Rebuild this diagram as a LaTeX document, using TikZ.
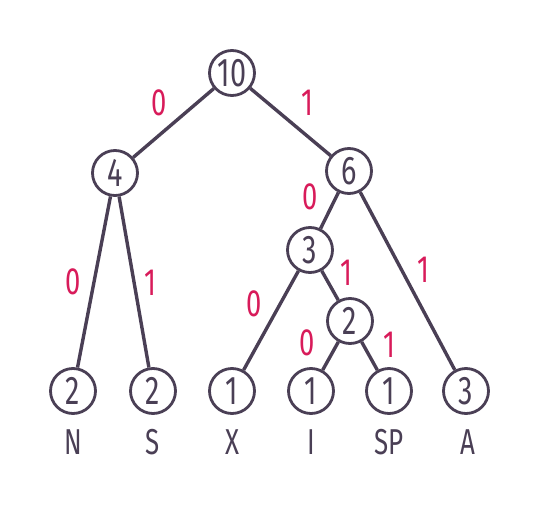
\documentclass[tikz,border=0pt]{standalone}
\usepackage{fontspec}
\newfontfamily\hand[FakeStretch=0.72]{Fira Sans}
\definecolor{ink}{HTML}{4A3F55}
\definecolor{bit}{HTML}{D81B5A}
\begin{document}
\begin{tikzpicture}[x=1pt,y=-1pt,
  nd/.style={circle,draw=ink,line width=2.8pt,minimum size=45pt,inner sep=0pt,text=ink,font=\hand\fontsize{40}{40}\selectfont},
  sym/.style={text=ink,font=\hand\fontsize{36}{36}\selectfont},
  bitlab/.style={text=bit,font=\hand\fontsize{38}{38}\selectfont},
  edge/.style={draw=ink,line width=3.4pt}]
\useasboundingbox (0,0) rectangle (544,509);
\node[nd] (r) at (232,73) {10};
\node[nd] (n4) at (115,173) {4};
\node[nd] (n6) at (349,171) {6};
\node[nd] (n3) at (310,250) {3};
\node[nd] (n2) at (350,321) {2};
\node[nd] (lN) at (73,391) {2};
\node[nd] (lS) at (153,391) {2};
\node[nd] (lX) at (232,391) {1};
\node[nd] (lI) at (311,391) {1};
\node[nd] (lSP) at (389,391) {1};
\node[nd] (lA) at (466,391) {3};
\node[sym] (tN) at (73,442) {N};
\node[sym] (tS) at (153,442) {S};
\node[sym] (tX) at (232,442) {X};
\node[sym] (tI) at (311,442) {I};
\node[sym] (tSP) at (389,442) {SP};
\node[sym] (tA) at (468,442) {A};
\draw[edge] (r) -- (n4);
\draw[edge] (r) -- (n6);
\draw[edge] (n4) -- (lN);
\draw[edge] (n4) -- (lS);
\draw[edge] (n6) -- (n3);
\draw[edge] (n6) -- (lA);
\draw[edge] (n3) -- (lX);
\draw[edge] (n3) -- (n2);
\draw[edge] (n2) -- (lI);
\draw[edge] (n2) -- (lSP);
\node[bitlab] (b1) at (159,103) {0};
\node[bitlab] (b2) at (307,103) {1};
\node[bitlab] (b3) at (73,282) {0};
\node[bitlab] (b4) at (150,283) {1};
\node[bitlab] (b5) at (310,197) {0};
\node[bitlab] (b6) at (423,270) {1};
\node[bitlab] (b7) at (254,304) {0};
\node[bitlab] (b8) at (346,273) {1};
\node[bitlab] (b9) at (307,343) {0};
\node[bitlab] (b10) at (389,345) {1};
\end{tikzpicture}
\end{document}
